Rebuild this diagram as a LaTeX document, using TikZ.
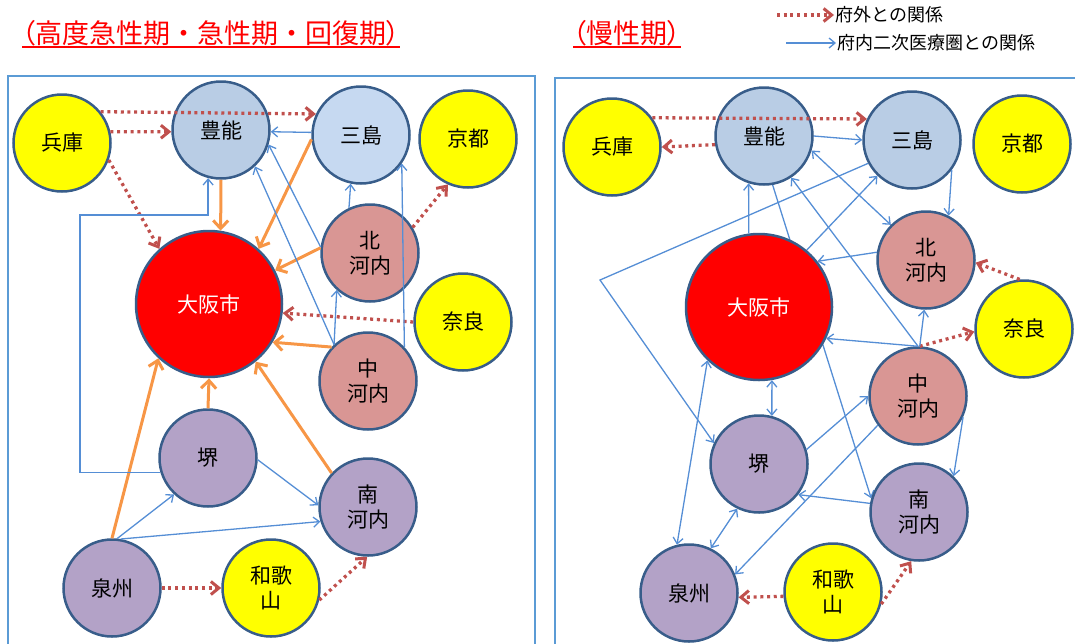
\documentclass[tikz,border=0pt]{standalone}
\usepackage{fontspec}
\newfontfamily\jp{Noto Sans CJK JP}
\newfontfamily\jpp[RawFeature=+palt]{Noto Sans CJK JP}
\usepackage{xcolor}
\usepackage{tikz}
\usetikzlibrary{arrows.meta}

\definecolor{frameblue}{RGB}{91,155,213}
\definecolor{linkblue}{RGB}{85,142,213}
\definecolor{extred}{RGB}{192,80,77}
\definecolor{emerorange}{RGB}{247,150,70}
\definecolor{edgeblue}{RGB}{56,93,138}
\definecolor{prefyellow}{RGB}{255,255,0}
\definecolor{hokusetsu}{RGB}{185,205,229}
\definecolor{mishimapale}{RGB}{198,217,241}
\definecolor{kawachipink}{RGB}{217,150,148}
\definecolor{senshulilac}{RGB}{179,162,199}
\definecolor{cityred}{RGB}{255,0,0}

\pgfdeclarelayer{bg}
\pgfsetlayers{bg,main}

\begin{document}
\begin{tikzpicture}[x=1pt, y=-1pt,
    area/.style={circle, draw=edgeblue, line width=2.5pt, minimum size=97pt,
      inner sep=0pt, align=center, font=\jp\fontsize{21}{25}\selectfont},
    pref/.style={area, fill=prefyellow},
    city/.style={area, minimum size=146pt, fill=cityred, text=white},
    ext/.style={draw=extred, line width=3.3pt, dash pattern=on 3pt off 3.7pt,
      -{Straight Barb[length=8pt, width=13pt, line width=3pt]}},
    emer/.style={draw=emerorange, line width=3pt,
      -{Straight Barb[length=8pt, width=15pt]}},
    hosp/.style={draw=linkblue, line width=1.3pt,
      -{Straight Barb[length=6pt, width=10pt]}},
    hospboth/.style={draw=linkblue, line width=1.3pt,
      {Straight Barb[length=6pt, width=10pt]}-{Straight Barb[length=6pt, width=10pt]}},
    heading/.style={inner sep=0pt, text=cityred, font=\jpp\fontsize{27}{30}\selectfont},
    uline/.style={draw=cityred, line width=1.5pt},
    legend/.style={inner sep=1pt, font=\jp\fontsize{18}{20}\selectfont}]
    \useasboundingbox (0,0) rectangle (1075,643);

    % Headings
    \node[heading, anchor=base west] (titleL) at (22,43) {（高度急性期{\jp ・}急性期{\jp ・}回復期）};
    \draw[uline] ([yshift=-4pt]titleL.base west) -- ([yshift=-4pt]titleL.base east);
    \node[heading, anchor=base west] (titleR) at (573,43) {（慢性期）};
    \draw[uline] ([yshift=-4pt]titleR.base west) -- ([yshift=-4pt]titleR.base east);

    % Legend
    \node[legend, anchor=west] (legExt) at (834,15) {府外との関係};
    \coordinate (legExtStart) at (777,15);
    \draw[ext] (legExtStart) -- (legExt.west);
    \node[legend, anchor=west] (legHosp) at (836,43) {府内二次医療圏との関係};
    \coordinate (legHospStart) at (786,43);
    \draw[hosp] (legHospStart) -- (legHosp.west);

    % Frames
    \draw[frameblue, line width=2pt] (8,645) -- (8,76) -- (535,76) -- (535,645);
    \draw[frameblue, line width=1.5pt] (555,645) -- (555,78) -- (1076,78);

    % Left: acute phases
    \node[pref] (hyogoL) at (62,143) {兵庫};
    \node[area, fill=hokusetsu] (toyonoL) at (221,130) {豊能};
    \node[area, fill=mishimapale] (mishimaL) at (361,135) {三島};
    \node[pref] (kyotoL) at (468,139) {京都};
    \node[city] (osakaL) at (209,304) {大阪市};
    \node[area, fill=kawachipink] (kitaL) at (370,253) {北\\河内};
    \node[pref] (naraL) at (463,322) {奈良};
    \node[area, fill=kawachipink] (nakaL) at (368,381) {中\\河内};
    \node[area, fill=senshulilac] (sakaiL) at (208,458) {堺};
    \node[area, fill=senshulilac] (minamiL) at (368,507) {南\\河内};
    \node[area, fill=senshulilac] (senshuL) at (112,588) {泉州};
    \node[pref] (wakayamaL) at (271,588) {和歌\\山};

    % Left: outside the prefecture
    \draw[ext] (hyogoL.39) -- (mishimaL.155);
    \draw[ext] (hyogoL.13) -- (toyonoL.182);
    \draw[ext] (hyogoL.-20) -- (osakaL.132);
    \draw[ext] (kitaL.31) -- (kyotoL.246);
    \draw[ext] (naraL.180) -- (osakaL.-7);
    \draw[ext] (senshuL.east) -- (wakayamaL.west);
    \draw[ext] (wakayamaL.-14) -- (minamiL.269);

    % Left: into Osaka city
    \draw[emer] (toyonoL.south) -- (osakaL.81);
    \draw[emer] (mishimaL.185) -- (osakaL.48);
    \draw[emer] (kitaL.174) -- (osakaL.27);
    \draw[emer] (nakaL.137) -- (osakaL.-31);
    \draw[emer] (sakaiL.north) -- (osakaL.south);
    \draw[emer] (senshuL.north) -- (osakaL.227);
    \draw[emer] (minamiL.137) -- (osakaL.-51);

    % Left: between areas
    \coordinate (bendL) at (80,215);
    \draw[hosp] (mishimaL.177) -- (toyonoL.-2);
    \draw[hosp] (kitaL.173) -- (toyonoL.-17);
    \draw[hosp] (nakaL.133) -- (toyonoL.-47);
    \draw[hosp] (kitaL.115) -- (mishimaL.258);
    \draw[hosp] (nakaL.133) -- (kitaL.228);
    \draw[hosp] (nakaL.43) -- (mishimaL.-35);
    \draw[hosp] (sakaiL.197) -| (bendL) -| (toyonoL.255);
    \draw[hosp] (sakaiL.-2) -- (minamiL.178);
    \draw[hosp] (senshuL.84) -- (sakaiL.227);
    \draw[hosp] (senshuL.80) -- (minamiL.197);

    % Right: chronic phase
    \node[pref] (hyogoR) at (612,147) {兵庫};
    \node[area, fill=hokusetsu] (toyonoR) at (764,136) {豊能};
    \node[area, fill=hokusetsu] (mishimaR) at (912,140) {三島};
    \node[pref] (kyotoR) at (1022,144) {京都};
    \node[city] (osakaR) at (759,307) {大阪市};
    \node[area, fill=kawachipink] (kitaR) at (926,260) {北\\河内};
    \node[pref] (naraR) at (1024,329) {奈良};
    \node[area, fill=kawachipink] (nakaR) at (918,396) {中\\河内};
    \node[area, fill=senshulilac] (sakaiR) at (759,464) {堺};
    \node[area, fill=senshulilac] (minamiR) at (919,512) {南\\河内};
    \node[area, fill=senshulilac] (senshuR) at (689,593) {泉州};
    \node[pref] (wakayamaR) at (833,592) {和歌\\山};

    % Right: outside the prefecture
    \draw[ext] (hyogoR.36) -- (mishimaR.155);
    \draw[ext] (toyonoR.190) -- (hyogoR.0);
    \draw[ext] (naraR.95) -- (kitaR.-3);
    \draw[ext] (nakaR.88) -- (naraR.183);
    \draw[ext] (wakayamaR.185) -- (senshuR.-5);
    \draw[ext] (wakayamaR.-14) -- (minamiR.261);

    % Right: between areas
    \coordinate (bendR) at (600,280);
    \draw[hosp] (toyonoR.east) -- (mishimaR.180);
    \draw[hosp] (mishimaR.-37) -- (kitaR.63);
    \draw[hospboth] (toyonoR.-17) -- (kitaR.135);
    \draw[hosp] (osakaR.98) -- (toyonoR.252);
    \draw[hosp] (nakaR.90) -- (toyonoR.-57);
    \draw[hosp] (osakaR.50) -- (mishimaR.226);
    \draw[hosp] (mishimaR.208) -- (bendR) -- (sakaiR.155);
    \draw[hosp] (kitaR.171) -- (osakaR.38);
    \draw[hosp] (nakaR.88) -- (kitaR.268);
    \draw[hosp] (nakaR.90) -- (osakaR.-25);
    \draw[hospboth] (osakaR.-80) -- (sakaiR.75);
    \draw[hospboth] (osakaR.226) -- (senshuR.104);
    \draw[hospboth] (sakaiR.244) -- (senshuR.64);
    \draw[hosp] (sakaiR.17) -- (nakaR.180);
    \draw[hosp] (nakaR.216) -- (senshuR.22);
    \draw[hosp] (minamiR.170) -- (sakaiR.-38);
    \draw[hosp] (nakaR.-25) -- (minamiR.46);
    \begin{pgfonlayer}{bg}
      \draw[hosp] (toyonoR.-80) -- (minamiR.164);
    \end{pgfonlayer}
\end{tikzpicture}
\end{document}
